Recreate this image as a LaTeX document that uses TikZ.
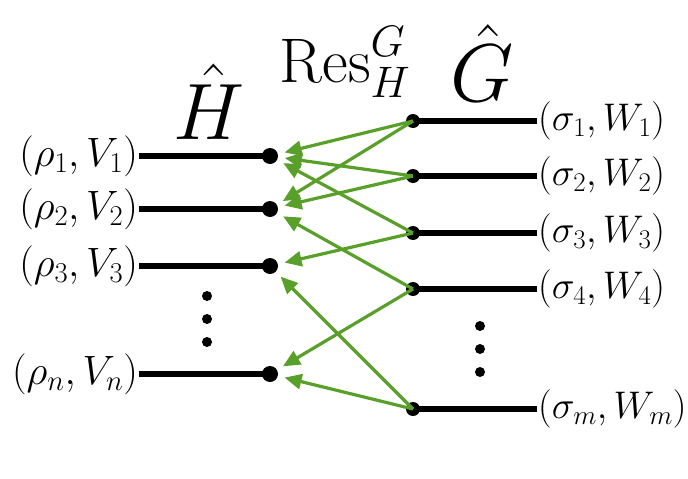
\documentclass[tikz,border=0pt]{standalone}
\usepackage{fix-cm}
\usetikzlibrary{arrows.meta}
\definecolor{resgreen}{RGB}{88,160,42}
\tikzset{
  hdot/.style={circle, fill=black, inner sep=0pt, minimum size=16pt},
  gdot/.style={circle, fill=black, inner sep=0pt, minimum size=14pt},
  vdot/.style={circle, fill=black, inner sep=0pt, minimum size=10pt},
  bar/.style={line width=6.5pt},
  labl/.style={inner sep=1pt, font=\fontsize{41}{48}\selectfont},
  labr/.style={inner sep=1pt, font=\fontsize{38.5}{46}\selectfont},
  resarrow/.style={draw=resgreen, line width=3.2pt, -{Triangle[length=17pt,width=15pt]}, shorten >=15pt},
}
\begin{document}
\begin{tikzpicture}[x=1pt,y=-1pt]
\useasboundingbox (0,0) rectangle (688,479);
% H side
\node[hdot] (h1) at (270,156) {};
\node[hdot] (h2) at (270,209) {};
\node[hdot] (h3) at (270,266) {};
\node[hdot] (hn) at (270,374) {};
\coordinate (a1) at (139,156);
\coordinate (a2) at (139,209);
\coordinate (a3) at (139,266);
\coordinate (an) at (139,374);
\node[labl, anchor=east] (l1) at (a1) {$(\rho_1,V_1)$};
\node[labl, anchor=east] (l2) at (a2) {$(\rho_2,V_2)$};
\node[labl, anchor=east] (l3) at (a3) {$(\rho_3,V_3)$};
\node[labl, anchor=east] (ln) at (an) {$(\rho_n,V_n)$};
\draw[bar] (a1) -- (h1.center);
\draw[bar] (a2) -- (h2.center);
\draw[bar] (a3) -- (h3.center);
\draw[bar] (an) -- (hn.center);
\node[vdot] (hv1) at (207,296) {};
\node[vdot] (hv2) at (207,319) {};
\node[vdot] (hv3) at (207,342) {};
% G side
\node[gdot] (g1) at (413,121) {};
\node[gdot] (g2) at (413,176) {};
\node[gdot] (g3) at (413,233) {};
\node[gdot] (g4) at (413,289) {};
\node[gdot] (gm) at (413,409) {};
\coordinate (b1) at (537,121);
\coordinate (b2) at (537,176);
\coordinate (b3) at (537,233);
\coordinate (b4) at (537,289);
\coordinate (bm) at (537,409);
\node[labr, anchor=west] (r1) at (b1) {$(\sigma_1,W_1)$};
\node[labr, anchor=west] (r2) at (b2) {$(\sigma_2,W_2)$};
\node[labr, anchor=west] (r3) at (b3) {$(\sigma_3,W_3)$};
\node[labr, anchor=west] (r4) at (b4) {$(\sigma_4,W_4)$};
\node[labr, anchor=west] (rm) at (bm) {$(\sigma_m,W_m)$};
\draw[bar] (g1.center) -- (b1);
\draw[bar] (g2.center) -- (b2);
\draw[bar] (g3.center) -- (b3);
\draw[bar] (g4.center) -- (b4);
\draw[bar] (gm.center) -- (bm);
\node[vdot] (gv1) at (480,326) {};
\node[vdot] (gv2) at (480,349) {};
\node[vdot] (gv3) at (480,372) {};
% titles
\node[inner sep=0pt, font=\fontsize{80}{84}\selectfont] (Hhat) at (209,102) {$\hat{H}$};
\node[inner sep=0pt, font=\fontsize{82}{86}\selectfont] (Ghat) at (482,63) {$\hat{G}$};
\node[inner sep=0pt, font=\fontsize{63}{68}\selectfont] (res) at (345,62) {$\mathrm{Res}_H^G$};
% restriction arrows
\draw[resarrow] (g1.center) -- (h1.center);
\draw[resarrow] (g1.center) -- (h2.center);
\draw[resarrow] (g2.center) -- (h1.center);
\draw[resarrow] (g2.center) -- (h2.center);
\draw[resarrow] (g3.center) -- (h1.center);
\draw[resarrow] (g3.center) -- (h3.center);
\draw[resarrow] (g4.center) -- (h2.center);
\draw[resarrow] (g4.center) -- (hn.center);
\draw[resarrow] (gm.center) -- (h3.center);
\draw[resarrow] (gm.center) -- (hn.center);
\end{tikzpicture}
\end{document}
